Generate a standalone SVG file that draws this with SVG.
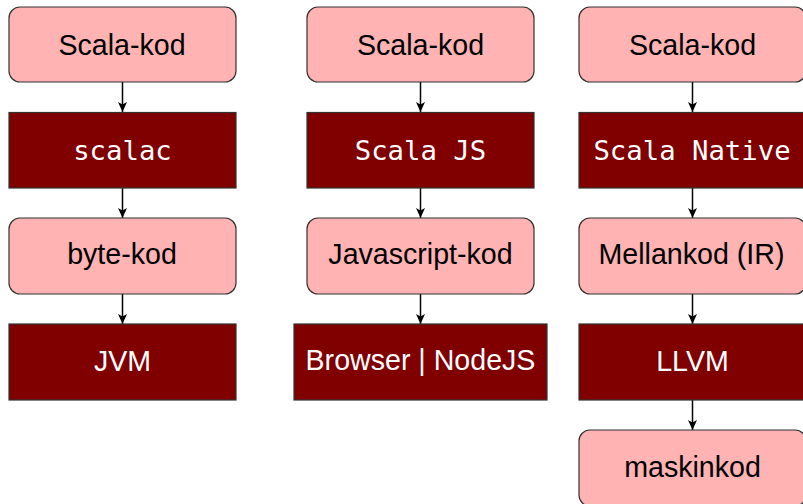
<svg xmlns="http://www.w3.org/2000/svg" width="803" height="504" viewBox="0 0 803 504">
  <style>
    .src { fill: #ffb3b3; stroke: #333333; stroke-width: 1.2; }
    .tool { fill: #800000; stroke: #333333; stroke-width: 1.2; }
    .lbl { font-family: "Liberation Sans", Arial, sans-serif; font-size: 28.6px; text-anchor: middle; fill: #000000; }
    .lblw { font-family: "Liberation Sans", Arial, sans-serif; font-size: 28.6px; text-anchor: middle; fill: #ffffff; }
    .mono { font-family: "DejaVu Sans Mono", monospace; font-size: 27.3px; text-anchor: middle; fill: #ffffff; }
    .edge { stroke: #000000; stroke-width: 1.5; fill: none; marker-end: url(#arr); }
  </style>
  <defs>
    <marker id="arr" viewBox="0 0 10 10" refX="10" refY="5" markerWidth="10" markerHeight="10" markerUnits="userSpaceOnUse" orient="auto">
      <path d="M0,0.5 L10,5 L0,9.5 L2.5,5 Z" fill="#000000"/>
    </marker>
  </defs>

  <!-- connectors -->
  <g id="edges">
    <line class="edge" x1="122.5" y1="82" x2="122.5" y2="112"/>
    <line class="edge" x1="122.5" y1="188" x2="122.5" y2="218"/>
    <line class="edge" x1="122.5" y1="294" x2="122.5" y2="324"/>
    <line class="edge" x1="420.5" y1="82" x2="420.5" y2="112"/>
    <line class="edge" x1="420.5" y1="188" x2="420.5" y2="218"/>
    <line class="edge" x1="420.5" y1="294" x2="420.5" y2="324"/>
    <line class="edge" x1="692.5" y1="82" x2="692.5" y2="112"/>
    <line class="edge" x1="692.5" y1="188" x2="692.5" y2="218"/>
    <line class="edge" x1="692.5" y1="294" x2="692.5" y2="324"/>
    <line class="edge" x1="692.5" y1="400" x2="692.5" y2="430"/>
  </g>

  <!-- JVM column -->
  <g id="jvm-src">
    <rect class="src" x="9" y="7" width="227" height="75" rx="11"/>
    <text class="lbl" x="122" y="55">Scala-kod</text>
  </g>
  <g id="jvm-scalac">
    <rect class="tool" x="9" y="112.5" width="227" height="75.5"/>
    <text class="mono" x="122.5" y="160">scalac</text>
  </g>
  <g id="jvm-bytecode">
    <rect class="src" x="9" y="218" width="227" height="76" rx="11"/>
    <text class="lbl" x="122" y="264">byte-kod</text>
  </g>
  <g id="jvm-runtime">
    <rect class="tool" x="9" y="324" width="227" height="76"/>
    <text class="lblw" x="122.5" y="371">JVM</text>
  </g>

  <!-- JS column -->
  <g id="js-src">
    <rect class="src" x="307" y="7" width="227" height="75" rx="11"/>
    <text class="lbl" x="420.5" y="55">Scala-kod</text>
  </g>
  <g id="js-compiler">
    <rect class="tool" x="307" y="112.5" width="227" height="75.5"/>
    <text class="mono" x="420.5" y="160">Scala JS</text>
  </g>
  <g id="js-code">
    <rect class="src" x="307" y="218" width="227" height="76" rx="11"/>
    <text class="lbl" x="420.5" y="264">Javascript-kod</text>
  </g>
  <g id="js-runtime">
    <rect class="tool" x="294" y="324" width="253" height="76"/>
    <text class="lblw" x="420.5" y="370">Browser | NodeJS</text>
  </g>

  <!-- Native column -->
  <g id="native-src">
    <rect class="src" x="579" y="7" width="227" height="75" rx="11"/>
    <text class="lbl" x="692.5" y="55">Scala-kod</text>
  </g>
  <g id="native-compiler">
    <rect class="tool" x="579" y="112.5" width="227" height="75.5"/>
    <text class="mono" x="692" y="160">Scala Native</text>
  </g>
  <g id="native-ir">
    <rect class="src" x="579" y="218" width="227" height="76" rx="11"/>
    <text class="lbl" x="691.5" y="264">Mellankod (IR)</text>
  </g>
  <g id="native-llvm">
    <rect class="tool" x="579" y="324" width="227" height="76"/>
    <text class="lblw" x="692.5" y="371">LLVM</text>
  </g>
  <g id="native-machine">
    <rect class="src" x="579" y="430" width="227" height="76" rx="11"/>
    <text class="lbl" x="692.5" y="477">maskinkod</text>
  </g>
</svg>
